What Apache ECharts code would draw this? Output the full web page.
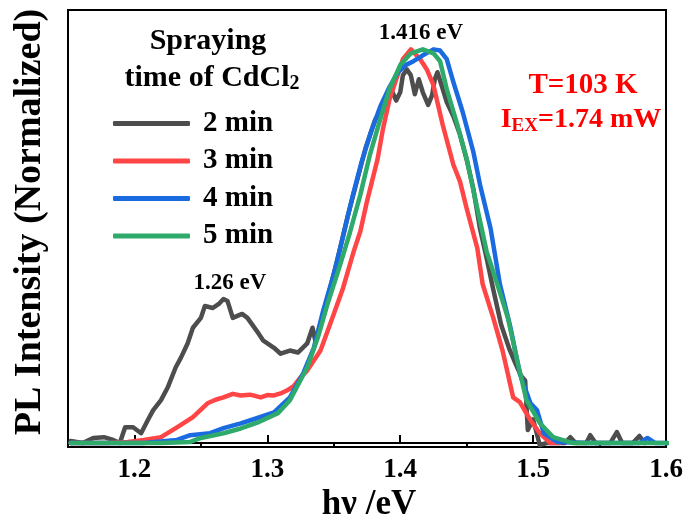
<!DOCTYPE html>
<html>
<head>
<meta charset="utf-8">
<script src="https://cdn.jsdelivr.net/npm/echarts@6/dist/echarts.min.js"></script>
<style>
html,body{margin:0;padding:0;background:#fff;}
#chart{width:691px;height:527px;}
</style>
</head>
<body>
<div id="chart"></div>
<script>
// ---- data ----
const seriesNames = ['2 min', '3 min', '4 min', '5 min'];
const xTickLabels = [1.2, 1.3, 1.4, 1.5, 1.6];
const xMinorTicks = [1.25, 1.35, 1.45, 1.55];

const min2 = [[1.152,0.005],[1.161,0.0],[1.169,0.013],[1.177,0.015],[1.184,0.008],[1.189,0.0],[1.193,0.040],[1.199,0.040],[1.205,0.025],[1.210,0.058],[1.214,0.083],[1.220,0.109],[1.225,0.141],[1.231,0.192],[1.235,0.217],[1.240,0.253],[1.244,0.293],[1.250,0.318],[1.253,0.348],[1.259,0.343],[1.264,0.355],[1.267,0.366],[1.270,0.361],[1.274,0.318],[1.281,0.328],[1.285,0.318],[1.292,0.285],[1.297,0.260],[1.305,0.242],[1.310,0.227],[1.317,0.235],[1.323,0.230],[1.330,0.253],[1.334,0.293],[1.336,0.262],[1.340,0.30],[1.347,0.39],[1.353,0.47],[1.360,0.57],[1.367,0.66],[1.374,0.75],[1.381,0.82],[1.388,0.86],[1.393,0.90],[1.397,0.87],[1.400,0.891],[1.402,0.934],[1.405,0.949],[1.408,0.934],[1.411,0.886],[1.414,0.924],[1.417,0.891],[1.421,0.859],[1.424,0.884],[1.426,0.924],[1.428,0.942],[1.431,0.91],[1.435,0.866],[1.440,0.83],[1.445,0.783],[1.450,0.72],[1.455,0.646],[1.460,0.545],[1.465,0.47],[1.470,0.39],[1.476,0.30],[1.482,0.24],[1.487,0.20],[1.491,0.17],[1.494,0.159],[1.496,0.033],[1.500,0.06],[1.505,-0.005],[1.510,0.0],[1.518,0.0],[1.524,0.0],[1.528,0.015],[1.532,0.0],[1.540,0.0],[1.543,0.02],[1.547,0.0],[1.558,0.0],[1.563,0.028],[1.567,0.0],[1.575,0.0],[1.580,0.018],[1.584,0.0]];

const min3 = [[1.152,0.0],[1.18,0.0],[1.195,0.003],[1.207,0.008],[1.220,0.015],[1.232,0.040],[1.244,0.066],[1.255,0.101],[1.261,0.11],[1.267,0.116],[1.274,0.125],[1.280,0.121],[1.287,0.123],[1.295,0.116],[1.300,0.122],[1.305,0.121],[1.310,0.126],[1.315,0.134],[1.320,0.145],[1.325,0.167],[1.330,0.184],[1.340,0.235],[1.350,0.328],[1.357,0.394],[1.365,0.487],[1.370,0.538],[1.375,0.614],[1.383,0.722],[1.387,0.798],[1.392,0.874],[1.398,0.934],[1.402,0.975],[1.408,1.0],[1.415,0.975],[1.420,0.949],[1.425,0.909],[1.432,0.808],[1.440,0.707],[1.445,0.664],[1.450,0.596],[1.458,0.495],[1.462,0.404],[1.470,0.318],[1.477,0.235],[1.485,0.116],[1.490,0.104],[1.498,0.058],[1.505,0.025],[1.513,0.0],[1.520,0.0]];

const min4 = [[1.152,0.0],[1.19,0.0],[1.207,0.0],[1.232,0.008],[1.242,0.020],[1.257,0.025],[1.267,0.038],[1.280,0.05],[1.292,0.063],[1.305,0.078],[1.317,0.116],[1.327,0.177],[1.335,0.242],[1.342,0.336],[1.350,0.429],[1.357,0.525],[1.364,0.625],[1.371,0.715],[1.378,0.790],[1.385,0.855],[1.392,0.905],[1.398,0.940],[1.404,0.960],[1.410,0.97],[1.417,0.985],[1.425,1.0],[1.430,0.997],[1.435,0.975],[1.440,0.917],[1.447,0.841],[1.455,0.740],[1.460,0.657],[1.468,0.545],[1.475,0.404],[1.483,0.293],[1.490,0.177],[1.498,0.101],[1.503,0.083],[1.508,0.025],[1.518,0.003],[1.541,0.0],[1.580,0.0],[1.586,0.013],[1.592,0.0],[1.601,0.0]];

const min5 = [[1.152,0.0],[1.220,0.0],[1.242,0.003],[1.250,0.013],[1.267,0.025],[1.280,0.037],[1.292,0.051],[1.308,0.076],[1.317,0.109],[1.330,0.192],[1.338,0.268],[1.345,0.35],[1.355,0.455],[1.362,0.533],[1.370,0.631],[1.377,0.730],[1.385,0.823],[1.392,0.900],[1.400,0.960],[1.408,0.990],[1.417,1.0],[1.425,0.99],[1.430,0.97],[1.435,0.899],[1.443,0.808],[1.450,0.722],[1.458,0.596],[1.465,0.487],[1.473,0.404],[1.481,0.318],[1.488,0.210],[1.495,0.109],[1.505,0.051],[1.515,0.015],[1.530,0.0],[1.601,0.0]];

const seriesData = [min2, min3, min4, min5];
const colors = ['#4d4d4d', '#ff4545', '#1a6be0', '#2eaa6b'];

// ---- chart ----
const FONT = '"Liberation Serif","Times New Roman",serif';
const chart = echarts.init(document.getElementById('chart'), null, {renderer: 'canvas'});

const option = {
  animation: false,
  backgroundColor: '#fff',
  grid: {left: 68, right: 25, top: 10, bottom: 80, show: true, borderColor: '#000', borderWidth: 2, backgroundColor: 'transparent'},
  xAxis: [{
    type: 'value', min: 1.15, max: 1.6,
    axisLine: {show: true, lineStyle: {color: '#000', width: 2}},
    splitLine: {show: false},
    axisTick: {show: true, inside: true, length: 8, lineStyle: {color: '#000', width: 2}, customValues: xTickLabels},
    axisLabel: {show: true, customValues: xTickLabels, margin: 10, color: '#000', fontFamily: FONT, fontWeight: 'bold', fontSize: 27, formatter: v => v.toFixed(1)}
  }, {
    type: 'value', min: 1.15, max: 1.6, position: 'bottom',
    axisLine: {show: false},
    splitLine: {show: false},
    axisTick: {show: true, inside: true, length: 5, lineStyle: {color: '#000', width: 2}, customValues: xMinorTicks},
    axisLabel: {show: false}
  }],
  yAxis: {
    type: 'value', min: -0.01, max: 1.1,
    axisLine: {show: true, lineStyle: {color: '#000', width: 2}},
    axisTick: {show: false}, axisLabel: {show: false}, splitLine: {show: false}
  },
  legend: {
    data: seriesNames,
    orient: 'vertical', left: 113, top: 109,
    itemWidth: 77, itemHeight: 5, icon: 'roundRect', itemGap: 8.5,
    padding: 0,
    textStyle: {fontFamily: FONT, fontWeight: 'bold', fontSize: 29, color: '#000', lineHeight: 28, padding: [0,0,0,8]}
  },
  series: seriesNames.map((n, i) => ({
    name: n, type: 'line', data: seriesData[i], showSymbol: false, symbol: 'none',
    color: colors[i],
    lineStyle: {width: 4.5, color: colors[i], cap: 'round', join: 'round'},
    z: 2 + i
  })),
  graphic: [
    {type: 'text', x: 208, y: 41, style: {text: 'Spraying', font: 'bold 30px ' + FONT, fill: '#000', align: 'center', verticalAlign: 'middle'}},
    {type: 'text', x: 212, y: 78, style: {text: '{a|time of CdCl}{b|2}', align: 'center', verticalAlign: 'middle',
      rich: {a: {font: 'bold 30px ' + FONT, fill: '#000', lineHeight: 32}, b: {font: 'bold 20px ' + FONT, fill: '#000', lineHeight: 20, verticalAlign: 'bottom'}}}},
    {type: 'text', x: 421, y: 33, style: {text: '1.416 eV', font: 'bold 23px ' + FONT, fill: '#000', align: 'center', verticalAlign: 'middle'}},
    {type: 'text', x: 230, y: 283, style: {text: '1.26 eV', font: 'bold 23px ' + FONT, fill: '#000', align: 'center', verticalAlign: 'middle'}},
    {type: 'text', x: 583, y: 86, style: {text: 'T=103 K', font: 'bold 29px ' + FONT, fill: '#ff0000', align: 'center', verticalAlign: 'middle'}},
    {type: 'text', x: 581, y: 120, style: {text: '{a|I}{b|EX}{a|=1.74 mW}', align: 'center', verticalAlign: 'middle',
      rich: {a: {font: 'bold 28px ' + FONT, fill: '#ff0000', lineHeight: 32}, b: {font: 'bold 19px ' + FONT, fill: '#ff0000', lineHeight: 19, verticalAlign: 'bottom'}}}},
    {type: 'text', x: 369, y: 505, style: {text: 'hν /eV', font: 'bold 35px ' + FONT, fill: '#000', align: 'center', verticalAlign: 'middle'}},
    {type: 'text', x: 30, y: 222, rotation: Math.PI / 2, style: {text: 'PL Intensity (Normalized)', font: 'bold 38px ' + FONT, fill: '#000', align: 'center', verticalAlign: 'middle'}}
  ]
};
chart.setOption(option);
</script>
</body>
</html>
